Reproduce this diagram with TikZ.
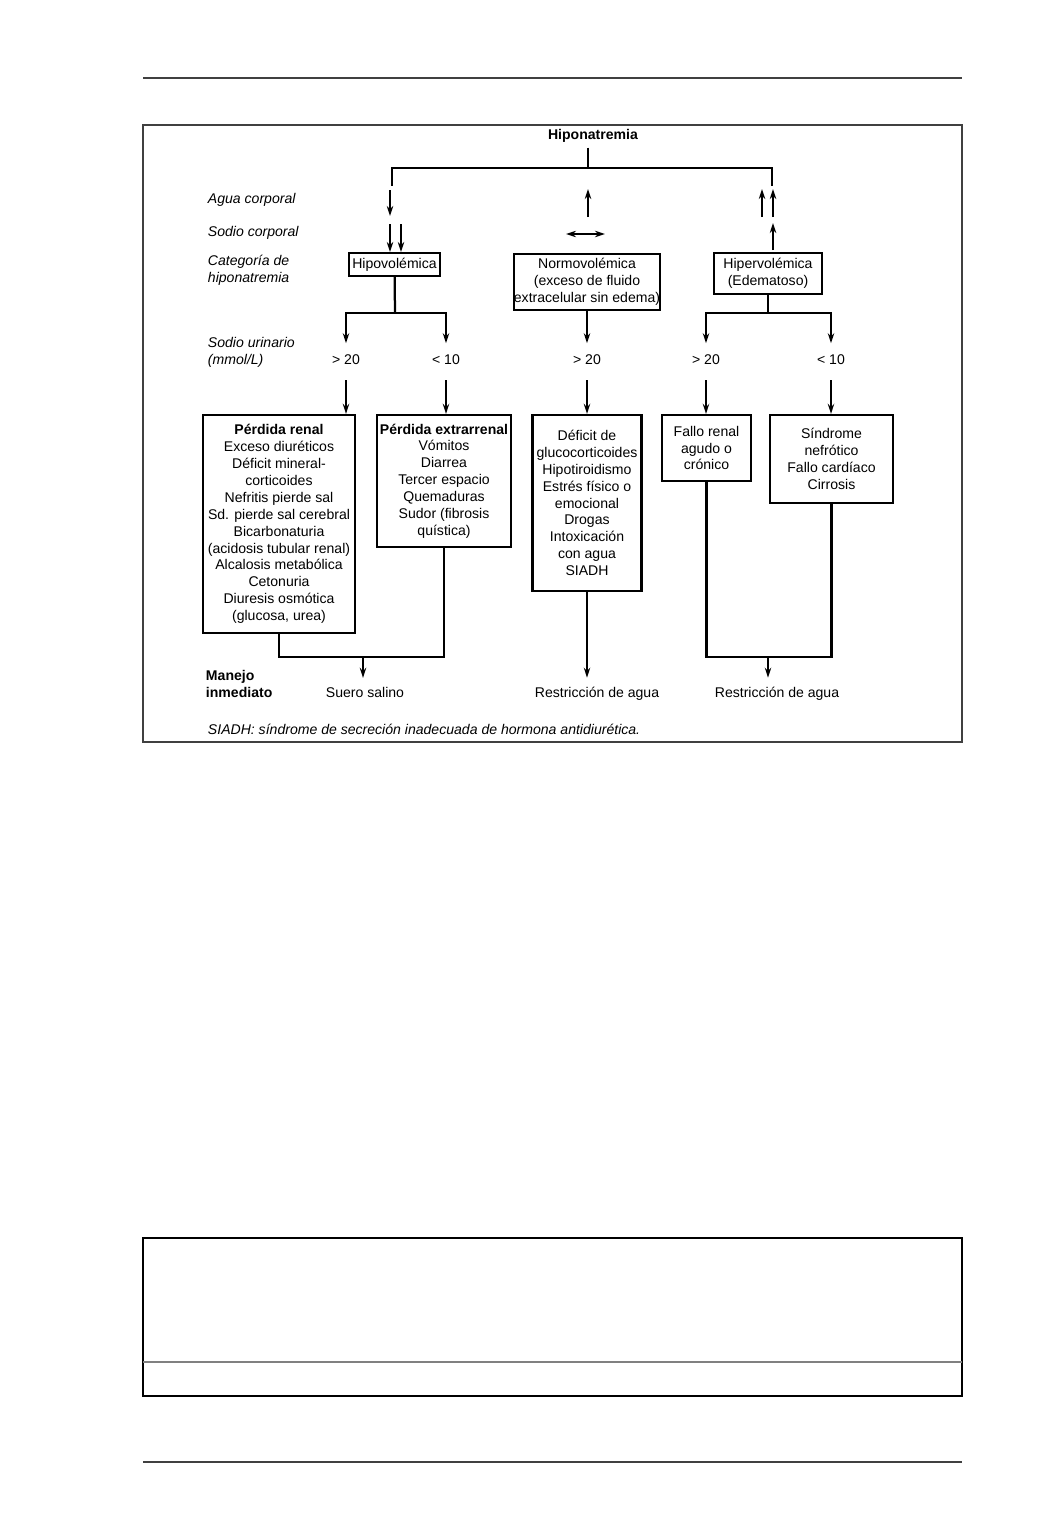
\documentclass[tikz,border=0pt]{standalone}
\usepackage{fontspec}
\setmainfont{Liberation Sans}
\usepackage{tikz}
\usetikzlibrary{arrows.meta, positioning}

\tikzset{
  caja/.style={draw, line width=1.6pt, align=center, inner sep=0pt},
  linea/.style={line width=1.6pt},
  flecha/.style={line width=1.4pt, -{Stealth[length=2.5mm,width=1.6mm]}},
  fila/.style={anchor=west, align=left, font=\itshape},
  manejo/.style={anchor=base},
  marco/.style={draw=black!75, line width=0.8pt},
}

\begin{document}
\begin{tikzpicture}[x=0.025cm, y=-0.025cm]
                \useasboundingbox (0,0) rectangle (1053,1537);

                % Marco de la pagina
                \draw[marco] (143,78) -- (962,78);
                \draw[marco] (143,125) rectangle (962,742);
                \draw[marco, draw=black] (143,1238) rectangle (962,1396);
                \draw[marco, draw=black!50, line width=1.4pt] (143,1362) -- (962,1362);
                \draw[marco] (143,1462) -- (962,1462);

                % Titulo y ramas
                \node[font=\bfseries] (titulo) at (593,136) {Hiponatremia};
                \coordinate (cruce) at (588,168);
                \coordinate (izq) at (392,186);
                \coordinate (der) at (772,186);
                \draw[linea] (titulo.south -| cruce) -- (cruce);
                \draw[linea] (izq) |- (cruce) -| (der);

                % Etiquetas de las filas
                \node[fila] (agua) at (203,200) {Agua corporal};
                \node[fila] (sodio) at (203,233) {Sodio corporal};
                \node[fila] (categoria) at (203,270) {Categoría de\\hiponatremia};
                \node[fila] (urinario) at (203,352) {Sodio urinario\\(mmol/L)};
                \node[fila, font=\bfseries] (manejo) at (201,684) {Manejo\\inmediato};

                % Agua y sodio corporal
                \draw[flecha] (390,190) -- (390,216);
                \draw[flecha] (588,217) -- (588,189);
                \foreach \x in {762,773} \draw[flecha] (\x,217) -- (\x,189);
                \foreach \x in {390,401} \draw[flecha] (\x,224) -- (\x,252);
                \draw[line width=1.4pt, {Stealth[length=2.5mm,width=1.6mm]}-{Stealth[length=2.5mm,width=1.6mm]}] (566,234) -- (605,234);
                \draw[flecha] (773,250) -- (773,223);

                % Categorias
                \node[caja, minimum width=2.275cm, minimum height=0.575cm] (hipo) at (394.5,264.5) {Hipovolémica};
                \node[caja, minimum width=3.65cm, minimum height=1.4cm] (normo) at (587,282) {Normovolémica\\(exceso de fluido\\extracelular sin edema)};
                \node[caja, minimum width=2.7cm, minimum height=1.025cm] (hiper) at (768,273.5) {Hipervolémica\\(Edematoso)};

                % Sodio urinario
                \node (u1) at (346,360) {> 20};
                \node (u2) at (446,360) {< 10};
                \node (u3) at (587,360) {> 20};
                \node (u4) at (706,360) {> 20};
                \node (u5) at (831,360) {< 10};

                \coordinate (b1) at (395,313);
                \coordinate (b3) at (768,313);
                \draw[linea] (hipo) -- (b1);
                \draw[flecha] (b1) -| ([yshift=4.2mm]u1.center);
                \draw[flecha] (b1) -| ([yshift=4.2mm]u2.center);
                \draw[flecha] (normo) -- ([yshift=4.2mm]u3.center);
                \draw[linea] (hiper) -- (b3);
                \draw[flecha] (b3) -| ([yshift=4.2mm]u4.center);
                \draw[flecha] (b3) -| ([yshift=4.2mm]u5.center);

                % Causas
                \node[caja, minimum width=3.8cm, minimum height=5.45cm] (renal) at (279,524) {\textbf{Pérdida renal}\\Exceso diuréticos\\Déficit mineral-\\corticoides\\Nefritis pierde sal\\Sd. pierde sal cerebral\\Bicarbonaturia\\(acidosis tubular renal)\\Alcalosis metabólica\\Cetonuria\\Diuresis osmótica\\(glucosa, urea)};
                \node[caja, minimum width=3.35cm, minimum height=3.3cm] (extra) at (444,481) {\textbf{Pérdida extrarrenal}\\Vómitos\\Diarrea\\Tercer espacio\\Quemaduras\\Sudor (fibrosis\\quística)};
                \node[caja, minimum width=2.725cm, minimum height=4.4cm] (deficit) at (587,503) {Déficit de\\glucocorticoides\\Hipotiroidismo\\Estrés físico o\\emocional\\Drogas\\Intoxicación\\con agua\\SIADH};
                \node[caja, minimum width=2.225cm, minimum height=1.65cm] (fallo) at (706.5,448) {Fallo renal\\agudo o\\crónico};
                \node[caja, minimum width=3.075cm, minimum height=2.2cm] (sindrome) at (831.5,459) {Síndrome\\nefrótico\\Fallo cardíaco\\Cirrosis};

                \draw[flecha] ([yshift=-5mm]u1.center) -- (u1 |- renal.north);
                \draw[flecha] ([yshift=-5mm]u2.center) -- (u2 |- extra.north);
                \draw[flecha] ([yshift=-5mm]u3.center) -- (u3 |- deficit.north);
                \draw[flecha] ([yshift=-5mm]u4.center) -- (u4 |- fallo.north);
                \draw[flecha] ([yshift=-5mm]u5.center) -- (u5 |- sindrome.north);

                % Manejo inmediato
                \node[manejo] (suero) at (365,697) {Suero salino};
                \node[manejo] (restr1) at (597,697) {Restricción de agua};
                \node[manejo] (restr2) at (777,697) {Restricción de agua};

                \coordinate (j1) at (363,657);
                \coordinate (j2) at (768,657);
                \draw[linea] (renal.south) |- (j1) -| (extra.south);
                \draw[flecha] (j1) -- ([yshift=1mm]j1 |- suero.north);
                \draw[flecha] (deficit.south) -- ([yshift=1mm]deficit.south |- restr1.north);
                \draw[linea] (fallo.south) |- (j2) -| (sindrome.south);
                \draw[flecha] (j2) -- ([yshift=1mm]j2 |- restr2.north);

                % Nota
                \node[fila] (nota) at (203,729) {SIADH: síndrome de secreción inadecuada de hormona antidiurética.};
            \end{tikzpicture}
\end{document}
